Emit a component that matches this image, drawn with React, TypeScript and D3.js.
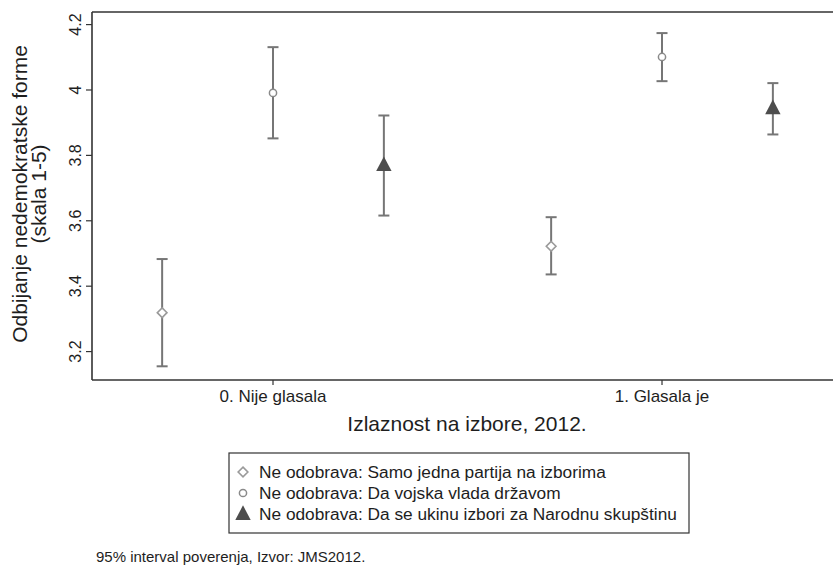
import React from "react";
import * as d3 from "d3";

const categories = ["0. Nije glasala", "1. Glasala je"];
const categoryValues = [0, 1];
const seriesNames = [
  "Ne odobrava: Samo jedna partija na izborima",
  "Ne odobrava: Da vojska vlada državom",
  "Ne odobrava: Da se ukinu izbori za Narodnu skupštinu",
];
const seriesOffsets = [-0.285, 0, 0.285];
const meanDiamond = [3.319, 3.522];
const meanCircle = [3.991, 4.101];
const meanTriangle = [3.77, 3.944];
const lowDiamond = [3.155, 3.436];
const lowCircle = [3.852, 4.027];
const lowTriangle = [3.616, 3.864];
const highDiamond = [3.483, 3.611];
const highCircle = [4.131, 4.174];
const highTriangle = [3.922, 4.021];
const yTicks = [3.2, 3.4, 3.6, 3.8, 4, 4.2];
const yTickLabels = ["3.2", "3.4", "3.6", "3.8", "4", "4.2"];
const yTitle = ["Odbijanje nedemokratske forme", "(skala 1-5)"];
const xTitle = "Izlaznost na izbore, 2012.";
const note = "95% interval poverenja, Izvor: JMS2012.";

const W = 833;
const H = 565;
const FONT = "'Liberation Sans', Arial, Helvetica, sans-serif";

export default function App() {
  const plotLeft = 92;
  const plotRight = 842;
  const plotTop = 12;
  const plotBottom = 380;
  const x = d3.scaleLinear().domain([-0.4653, 1.4627]).range([plotLeft, plotRight]);
  const y = d3.scaleLinear().domain([3.1131, 4.2385]).range([plotBottom, plotTop]);

  const means = [meanDiamond, meanCircle, meanTriangle];
  const lows = [lowDiamond, lowCircle, lowTriangle];
  const highs = [highDiamond, highCircle, highTriangle];

  const barColor = "#767676";
  const diamondColor = "#9a9a9a";
  const circleColor = "#8a8a8a";
  const triColor = "#4d4d4d";
  const textColor = "#1e1e1e";

  const diamondPath = d3.symbol(d3.symbolDiamond2, 60)() as string;
  const triPath = (s: number) => `M0,${-s * 0.62}L${s * 0.55},${s * 0.42}L${-s * 0.55},${s * 0.42}Z`;

  const marker = (si: number, cx: number, cy: number) => {
    if (si === 0)
      return (
        <path d={diamondPath} transform={`translate(${cx},${cy})`} fill="white" stroke={diamondColor} strokeWidth={1.6} />
      );
    if (si === 1)
      return <circle cx={cx} cy={cy} r={3.6} fill="white" stroke={circleColor} strokeWidth={1.5} />;
    return <path d={triPath(14)} transform={`translate(${cx},${cy})`} fill={triColor} />;
  };

  const legendLeft = 229;
  const legendRight = 689;
  const legendTop = 453;
  const legendBottom = 533;
  const legendRows = [472, 493, 514];

  return (
    <svg
      width={W}
      height={H}
      style={{ position: "absolute", left: 0, top: 0, background: "white" }}
      fontFamily={FONT}
    >
      <rect x={0} y={0} width={W} height={H} fill="white" />
      <line x1={plotLeft} x2={W} y1={plotTop} y2={plotTop} stroke="#333" strokeWidth={1.5} />
      <line x1={plotLeft} x2={W} y1={plotBottom} y2={plotBottom} stroke="#333" strokeWidth={1.6} />
      <line x1={plotLeft} x2={plotLeft} y1={plotTop} y2={plotBottom} stroke="#333" strokeWidth={1.6} />

      {yTicks.map((t, i) => (
        <g key={"yt" + i}>
          <line x1={plotLeft - 6} x2={plotLeft} y1={y(t)} y2={y(t)} stroke="#333" strokeWidth={1.2} />
          <text transform={`translate(81,${y(t)}) rotate(-90)`} textAnchor="middle" fontSize={16} fill={textColor}>
            {yTickLabels[i]}
          </text>
        </g>
      ))}

      <text transform={`translate(27,194) rotate(-90)`} textAnchor="middle" fontSize={21} fill={textColor}>
        {yTitle[0]}
      </text>
      <text transform={`translate(46,194) rotate(-90)`} textAnchor="middle" fontSize={21} fill={textColor}>
        {yTitle[1]}
      </text>

      {categories.map((c, i) => (
        <g key={"xt" + i}>
          <line
            x1={x(categoryValues[i])}
            x2={x(categoryValues[i])}
            y1={plotBottom}
            y2={plotBottom + 5}
            stroke="#333"
            strokeWidth={1.2}
          />
          <text x={x(categoryValues[i])} y={402} textAnchor="middle" fontSize={17} fill={textColor}>
            {c}
          </text>
        </g>
      ))}
      <text x={(plotLeft + plotRight) / 2} y={431} textAnchor="middle" fontSize={21} fill={textColor}>
        {xTitle}
      </text>

      {means.map((ser, si) =>
        ser.map((m, ci) => {
          const cx = x(categoryValues[ci] + seriesOffsets[si]);
          return (
            <g key={`s${si}c${ci}`}>
              <line x1={cx} x2={cx} y1={y(lows[si][ci])} y2={y(highs[si][ci])} stroke={barColor} strokeWidth={2} />
              <line x1={cx - 5.5} x2={cx + 5.5} y1={y(lows[si][ci])} y2={y(lows[si][ci])} stroke={barColor} strokeWidth={2} />
              <line x1={cx - 5.5} x2={cx + 5.5} y1={y(highs[si][ci])} y2={y(highs[si][ci])} stroke={barColor} strokeWidth={2} />
              {marker(si, cx, y(m))}
            </g>
          );
        })
      )}

      <rect
        x={legendLeft}
        y={legendTop}
        width={legendRight - legendLeft}
        height={legendBottom - legendTop}
        fill="white"
        stroke="#333"
        strokeWidth={1.2}
      />
      {seriesNames.map((s, i) => (
        <g key={"lg" + i}>
          {marker(i, 243, legendRows[i])}
          <text x={259} y={legendRows[i] + 6} fontSize={17.3} fill={textColor}>
            {s}
          </text>
        </g>
      ))}

      <text x={96} y={562} fontSize={15} fill={textColor}>
        {note}
      </text>
    </svg>
  );
}
